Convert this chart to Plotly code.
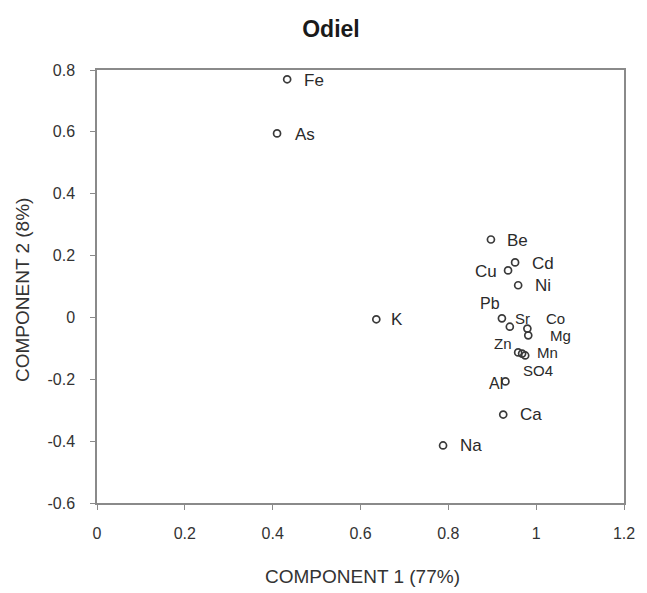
import plotly.graph_objects as go

# Component loadings for the Odiel samples
elements = ["Fe", "As", "K", "Na", "Ca", "Al", "Be", "Cu", "Cd", "Ni",
            "Pb", "Sr", "Co", "Mg", "Zn", "SO4", "Mn"]
comp1 = [0.433, 0.410, 0.636, 0.788, 0.925, 0.930, 0.897, 0.936, 0.952, 0.959,
         0.922, 0.940, 0.980, 0.982, 0.959, 0.968, 0.975]
comp2 = [0.770, 0.595, -0.006, -0.414, -0.314, -0.207, 0.252, 0.152, 0.178, 0.104,
         -0.003, -0.030, -0.036, -0.058, -0.113, -0.117, -0.123]

x_ticks = [0, 0.2, 0.4, 0.6, 0.8, 1, 1.2]
x_tick_text = ["0", "0.2", "0.4", "0.6", "0.8", "1", "1.2"]
y_ticks = [0.8, 0.6, 0.4, 0.2, 0, -0.2, -0.4, -0.6]
y_tick_text = ["0.8", "0.6", "0.4", "0.2", "0", "-0.2", "-0.4", "-0.6"]

FONT = "Liberation Sans, Arial, sans-serif"

# label offsets from each marker, in pixels: (xshift, yshift, font size)
label_style = {
    "Fe": (27, -1, 17), "As": (28, -1, 17), "K": (21, 0, 17), "Na": (28, 0, 17),
    "Ca": (28, 0, 17), "Al": (-9, -2, 16), "Be": (27, -1, 17), "Cu": (-22, -1, 17),
    "Cd": (28, -1, 17), "Ni": (25, 0, 17), "Pb": (-12, 15, 16), "Sr": (13, 8, 15),
    "Co": (28, 10, 15), "Mg": (32, 0, 15), "Zn": (-15, 9, 15), "SO4": (16, -17, 15),
    "Mn": (22, 3, 15),
}

fig = go.Figure()
fig.add_trace(go.Scatter(
    x=comp1, y=comp2, mode="markers",
    marker=dict(symbol="circle-open", size=7, color="#3a3a3a",
                line=dict(width=1.7, color="#3a3a3a")),
    hoverinfo="text", text=elements, showlegend=False,
))

for name, xv, yv in zip(elements, comp1, comp2):
    dx, dy, fs = label_style[name]
    fig.add_annotation(
        x=xv, y=yv, text=name, showarrow=False,
        xanchor="center", yanchor="middle", xshift=dx, yshift=dy,
        font=dict(family=FONT, size=fs, color="#2a2a2a"),
    )

axis_common = dict(
    showline=True, linecolor="#8a8a8a", linewidth=1.5, mirror=True,
    showgrid=False, zeroline=False, ticks="outside", ticklen=5,
    tickcolor="#8a8a8a", tickwidth=1,
    tickfont=dict(family=FONT, size=16, color="#333333"),
)

fig.update_xaxes(range=[0, 1.2], tickvals=x_ticks, ticktext=x_tick_text,
                 ticklabelstandoff=10, **axis_common)
fig.update_yaxes(range=[-0.6, 0.8], tickvals=y_ticks, ticktext=y_tick_text,
                 ticklabelstandoff=12, **axis_common)

fig.update_layout(
    width=647, height=593,
    margin=dict(l=97, r=23, t=70, b=90),
    paper_bgcolor="white", plot_bgcolor="white",
    title=dict(text="<b>Odiel</b>", x=331 / 647, xanchor="center", y=1 - 29 / 593,
               yanchor="middle",
               font=dict(family=FONT, size=23, color="#1a1a1a")),
)

fig.add_annotation(text="COMPONENT 1 (77%)", xref="paper", yref="paper",
                   x=(362 - 97) / 527, y=-73 / 433, xanchor="center", yanchor="middle",
                   showarrow=False,
                   font=dict(family=FONT, size=19, color="#333333"))
fig.add_annotation(text="COMPONENT 2 (8%)", xref="paper", yref="paper",
                   x=-75 / 527, y=(503 - 290) / 433, xanchor="center", yanchor="middle",
                   textangle=-90, showarrow=False,
                   font=dict(family=FONT, size=19, color="#333333"))

fig.write_html("out.html")
